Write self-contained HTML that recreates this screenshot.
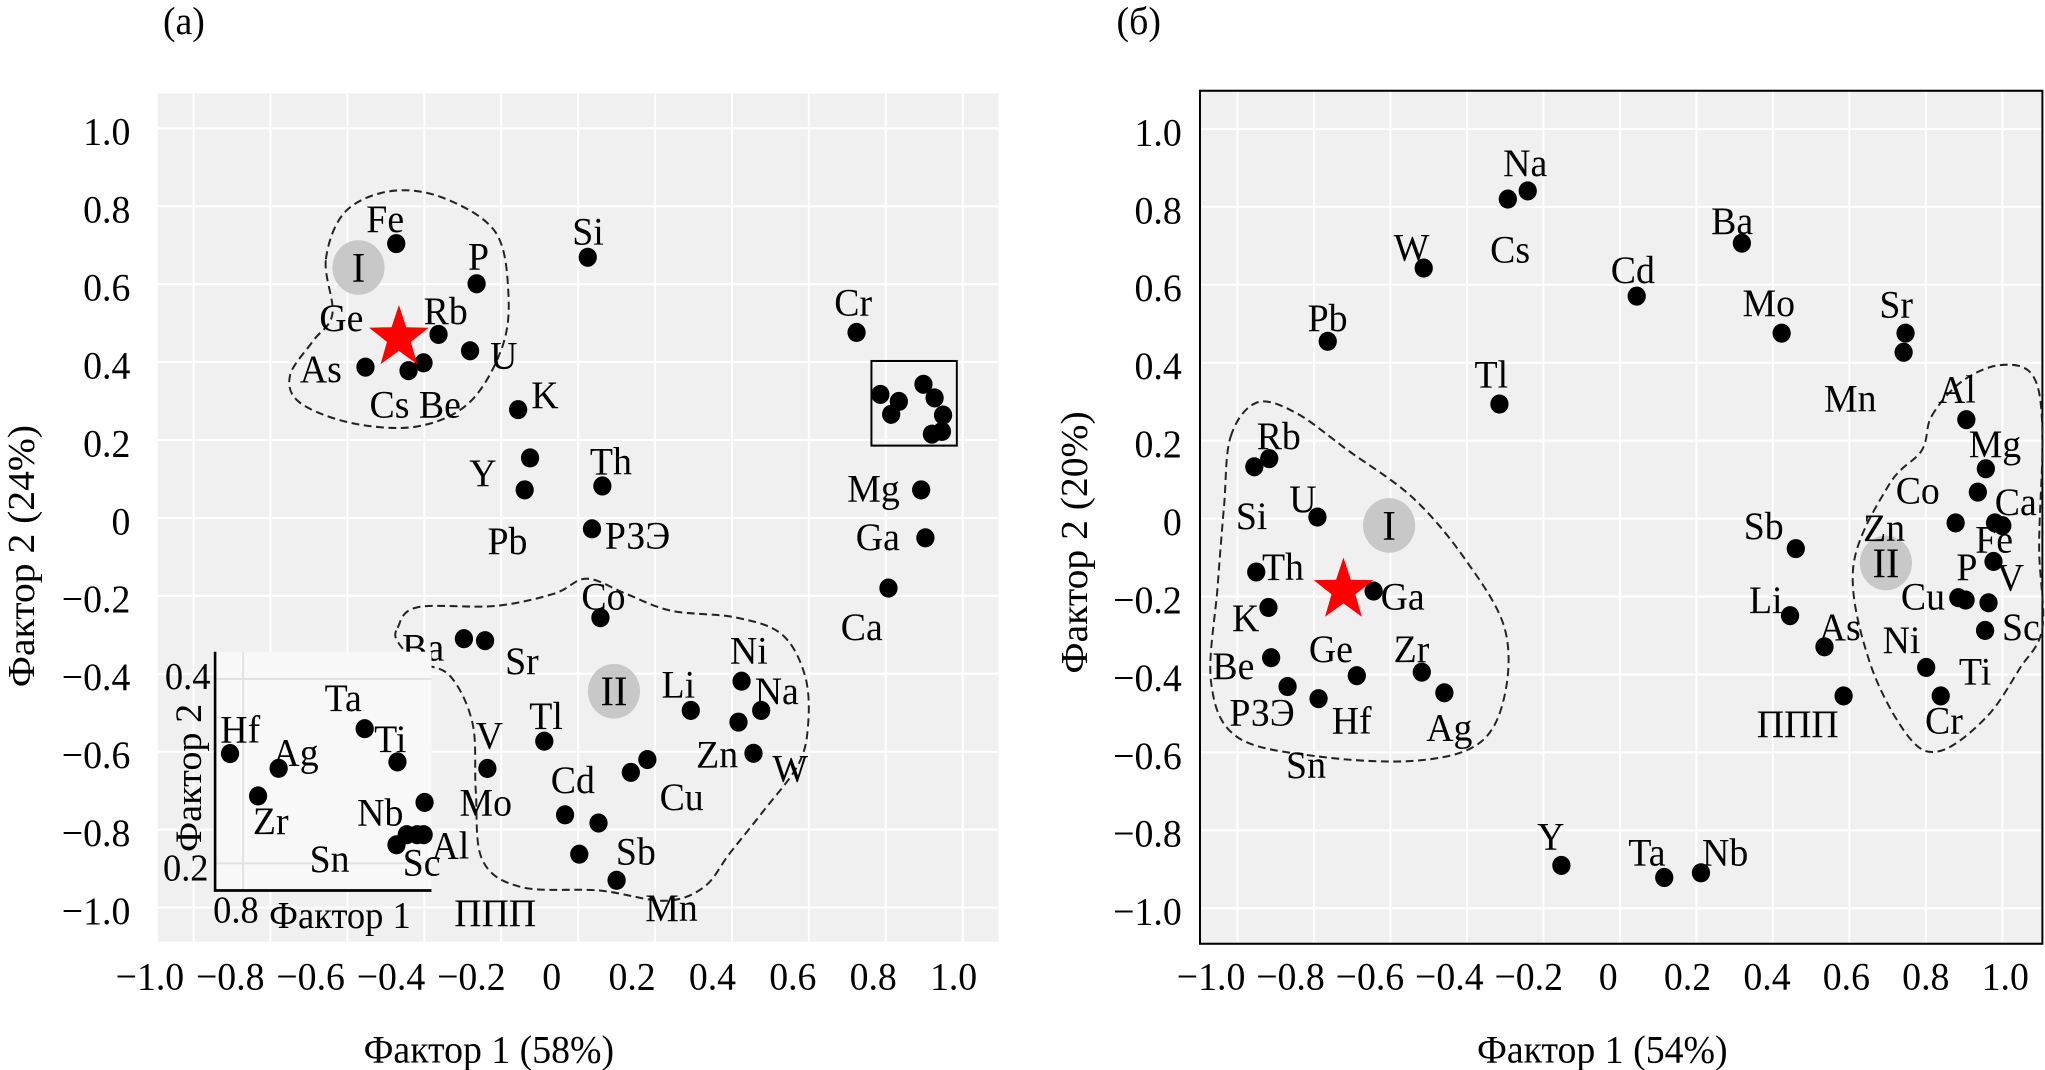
<!DOCTYPE html>
<html><head><meta charset="utf-8"><style>
html,body{margin:0;padding:0;background:#fff;width:2045px;height:1070px;overflow:hidden}
svg{position:absolute;top:0;font-family:"Liberation Serif","DejaVu Serif",serif}
text{font-family:"Liberation Serif","DejaVu Serif",serif}
</style></head><body>
<svg id="left" style="left:0" width="1022" height="1070" viewBox="0 0 1568 1568" preserveAspectRatio="none"></svg>
<svg id="right" style="left:1022px" width="1023" height="1070" viewBox="0 0 1569 1568" preserveAspectRatio="none"></svg>
<script>
// ---------- data: panel (a) ----------
const aX=[-0.473,-0.264,-0.363,-0.281,-0.553,-0.441,-0.402,0.025,0.724,-0.156,-0.125,-0.139,0.063,0.036,0.892,0.903,0.807,0.058,-0.297,-0.242,0.425,0.476,0.293,0.417,0.456,-0.088,-0.236,0.180,0.137,-0.034,0.053,0.003,0.100,0.786,0.834,0.814,0.898,0.927,0.949,0.946,0.920];
const aY=[0.704,0.601,0.471,0.429,0.387,0.378,0.398,0.669,0.476,0.278,0.154,0.072,0.082,-0.028,0.072,-0.051,-0.180,-0.256,-0.310,-0.315,-0.419,-0.494,-0.494,-0.524,-0.604,-0.573,-0.643,-0.620,-0.653,-0.762,-0.783,-0.863,-0.930,0.317,0.299,0.266,0.343,0.308,0.264,0.222,0.215];
const insetX=[0.786,0.838,0.816,0.930,0.965,0.994,0.975,0.986,0.993,0.964];
const insetY=[0.319,0.303,0.273,0.346,0.310,0.266,0.231,0.231,0.231,0.220];
const aLabels=[["Fe",562,340],["P",718,395],["Rb",650,475],["Ge",490,485],["U",752,540],["As",460,560],["Cs Be",567,612],["Si",878,358],["Cr",1280,462],["K",815,598],["Y",720,712],["Th",905,695],["Pb",748,812],["РЗЭ",928,804],["Mg",1300,735],["Ga",1313,806],["Ca",1290,938],["Co",892,893],["Ba",617,968],["Sr",775,988],["Ni",1120,972],["Na",1158,1032],["Li",1015,1022],["Tl",812,1068],["Zn",1068,1125],["W",1185,1145],["V",730,1097],["Cd",845,1162],["Cu",1012,1187],["Mo",705,1195],["Sb",945,1267],["ППП",697,1357],["Mn",990,1350]];
const insetLabels=[["Hf",338,1088],["Ag",418,1122],["Zr",388,1222],["Ta",498,1042],["Ti",574,1102],["Nb",548,1210],["Sn",475,1278],["Sc",618,1283],["Al",662,1258]];
// ---------- data: panel (б) ----------
const bX=[-0.241,-0.293,-0.513,-0.764,-0.315,0.044,0.319,0.423,0.747,0.742,0.906,0.957,0.936,0.878,0.981,1.0,0.977,0.885,0.904,0.964,0.955,0.801,0.839,0.460,0.445,0.535,0.585,-0.153,0.116,0.212,-0.917,-0.956,-0.791,-0.951,-0.644,-0.919,-0.912,-0.869,-0.788,-0.688,-0.518,-0.459];
const bY=[0.841,0.820,0.643,0.455,0.294,0.571,0.707,0.476,0.476,0.427,0.254,0.128,0.068,-0.011,-0.011,-0.018,-0.110,-0.203,-0.209,-0.216,-0.287,-0.382,-0.455,-0.077,-0.249,-0.329,-0.455,-0.890,-0.921,-0.909,0.154,0.133,0.004,-0.137,-0.186,-0.228,-0.357,-0.431,-0.462,-0.403,-0.394,-0.447];
const bLabels=[["Na",738,258],["W",570,382],["Cs",718,385],["Pb",438,485],["Tl",694,568],["Cd",903,415],["Ba",1057,343],["Mo",1105,463],["Sr",1315,465],["Mn",1230,603],["Al",1405,590],["Mg",1452,670],["Co",1340,738],["Ca",1492,755],["Zn",1290,793],["Fe",1462,810],["P",1433,850],["V",1495,865],["Cu",1348,893],["Sc",1503,938],["Ni",1320,957],["Ti",1437,1003],["Cr",1385,1075],["Sb",1107,790],["Li",1115,898],["As",1222,938],["ППП",1127,1080],["Rb",360,658],["U",410,750],["Si",328,775],["Th",368,850],["Ga",550,893],["K",322,925],["Ge",440,970],["Zr",570,970],["Be",292,995],["РЗЭ",318,1063],["Hf",475,1075],["Ag",620,1085],["Sn",405,1140],["Y",790,1245],["Ta",930,1268],["Nb",1043,1268]];
const ticks=[-1.0,-0.8,-0.6,-0.4,-0.2,0,0.2,0.4,0.6,0.8,1.0];
const tickText=["−1.0","−0.8","−0.6","−0.4","−0.2","0","0.2","0.4","0.6","0.8","1.0"];
const gridVals=[-1.0,-0.8,-0.6,-0.4,-0.2,0,0.2,0.4,0.6,0.8,1.0];
const NS="http://www.w3.org/2000/svg";
const FF='"Liberation Serif","DejaVu Serif",serif';
function mk(svg,tag,attrs,txt){const e=document.createElementNS(NS,tag);for(const k in attrs)e.setAttribute(k,attrs[k]);if(txt!==undefined){e.textContent=txt;e.setAttribute('font-family',FF);}svg.appendChild(e);return e;}
function smooth(pts){let d="";const n=pts.length;for(let i=0;i<n;i++){const p0=pts[(i-1+n)%n],p1=pts[i],p2=pts[(i+1)%n],p3=pts[(i+2)%n];if(i===0)d+="M"+p1[0]+","+p1[1];const c1=[p1[0]+(p2[0]-p0[0])/6,p1[1]+(p2[1]-p0[1])/6],c2=[p2[0]-(p3[0]-p1[0])/6,p2[1]-(p3[1]-p1[1])/6];d+="C"+c1+" "+c2+" "+p2;}return d+"Z";}
function star(cx,cy,R){const r=R*0.4;let p=[];for(let i=0;i<10;i++){const a=-Math.PI/2+i*Math.PI/5,rr=i%2?r:R;p.push((cx+rr*Math.cos(a)).toFixed(1)+","+(cy+rr*Math.sin(a)).toFixed(1));}return p.join(" ");}
const FS=58;
function panel(svg,o){
  const X=v=>o.x0+o.ux*v, Y=v=>o.y0-o.uy*v;
  let e=mk(svg,"rect",{x:o.bx[0],y:o.by[0],width:o.bx[1]-o.bx[0],height:o.by[1]-o.by[0],fill:"#f0f0f0"});
  
  gridVals.forEach(v=>{
    let g=mk(svg,"line",{x1:X(v),x2:X(v),y1:o.by[0],y2:o.by[1],stroke:"#fff","stroke-width":3});
    
    g=mk(svg,"line",{x1:o.bx[0],x2:o.bx[1],y1:Y(v),y2:Y(v),stroke:"#fff","stroke-width":3});
    
  });
  if(o.border){e=mk(svg,"rect",{x:o.bx[0],y:o.by[0],width:o.bx[1]-o.bx[0],height:o.by[1]-o.by[0],fill:"none",stroke:"#000","stroke-width":3});}
  ticks.forEach((v,i)=>{
    let t=mk(svg,"text",{x:o.lx0+o.lux*v,y:1450,"font-size":FS,"text-anchor":"middle"},tickText[i]);
    
    t=mk(svg,"text",{x:o.yLabX,y:Y(v)+24,"font-size":FS,"text-anchor":"end"},tickText[i]);
    
  });
  o.contours.forEach(c=>{let p=mk(svg,"path",{d:smooth(c),fill:"none",stroke:"#222","stroke-width":3,"stroke-dasharray":"12 7"});});
  o.circles.forEach(c=>{let g=mk(svg,"ellipse",{cx:c[1],cy:c[2],rx:40,ry:40,fill:"#c8c8c8"});
    let t=mk(svg,"text",{x:c[1],y:c[2]+21,"font-size":62,"text-anchor":"middle"},c[0]);});
  o.xs.forEach((v,i)=>{let c=mk(svg,"ellipse",{cx:X(v),cy:Y(o.ys[i]),rx:14,ry:14,fill:"#000"});});
  o.labels.forEach(l=>{let t=mk(svg,"text",{x:l[1],y:l[2],"font-size":FS},l[0]);});
  let s=mk(svg,"polygon",{points:star(o.star[0],o.star[1],48),fill:"#f00"});
  let t=mk(svg,"text",{x:o.title[0],y:50,"font-size":FS},o.title[1]);
  t=mk(svg,"text",{x:o.xt[0],y:1557,"font-size":FS,"text-anchor":"middle"},o.xt[1]);
  t=mk(svg,"text",{x:0,y:0,"font-size":FS,"text-anchor":"middle",transform:"translate("+o.yt[0]+","+o.yt[1]+") rotate(-90)"},o.yt[2]);
  return {X,Y};
}
const L=document.getElementById('left');
panel(L,{x0:887,ux:590,y0:759,uy:571,bx:[242,1532],by:[137,1380],border:false,lx0:846.5,lux:616.5,yLabX:200,
 contours:[[[500,380],[530,310],[600,280],[680,290],[760,340],[780,430],[770,510],[720,590],[640,625],[540,620],[460,590],[445,550],[480,500],[510,460]],
 [[610,920],[640,890],[760,888],[850,870],[900,848],[960,870],[1030,895],[1130,905],[1200,930],[1235,990],[1240,1060],[1225,1120],[1170,1190],[1120,1250],[1080,1300],[1020,1320],[920,1305],[800,1300],[740,1260],[730,1160],[725,1060],[690,990],[640,970],[610,940]]],
 circles:[["I",550,392],["II",942,1013]],xs:aX,ys:aY,labels:aLabels,star:[612,495],title:[250,"(a)"],xt:[750,"Фактор 1 (58%)"],yt:[52,815,"Фактор 2 (24%)"]});
let bxr=mk(L,"rect",{x:1337,y:529,width:131,height:124,fill:"none",stroke:"#000","stroke-width":3});

const IX=v=>373+1435*(v-0.8), IY=v=>995-1350*(v-0.4);
let ib=mk(L,"rect",{x:330,y:955,width:332,height:350,fill:"#f8f8f8"});
let ig=mk(L,"line",{x1:IX(0.8),x2:IX(0.8),y1:955,y2:1305,stroke:"#e2e2e2","stroke-width":3});
[0.4,0.2].forEach(v=>{let g=mk(L,"line",{x1:330,x2:662,y1:IY(v),y2:IY(v),stroke:"#e2e2e2","stroke-width":3});});
let ia=mk(L,"path",{d:"M330,955 L330,1305 L662,1305",fill:"none",stroke:"#000","stroke-width":4});
insetX.forEach((v,i)=>{let c=mk(L,"ellipse",{cx:IX(v),cy:IY(insetY[i]),rx:14,ry:14,fill:"#000"});});
insetLabels.forEach(l=>{let t=mk(L,"text",{x:l[1],y:l[2],"font-size":FS},l[0]);});
[["0.4",253,1010],["0.2",250,1290],["0.8",327,1352]].forEach(l=>{let t=mk(L,"text",{x:l[1],y:l[2],"font-size":56},l[0]);});
let it=mk(L,"text",{x:413,y:1360,"font-size":56},"Фактор 1");
it=mk(L,"text",{x:0,y:0,"font-size":56,"text-anchor":"middle",transform:"translate(308,1140) rotate(-90)"},"Фактор 2");

const R=document.getElementById('right');
panel(R,{x0:917,ux:586.5,y0:760,uy:571,bx:[273,1565],by:[133,1383],border:true,lx0:899,lux:609,yLabX:245,
 contours:[[[320,640],[360,590],[420,605],[500,660],[600,730],[680,820],[740,920],[740,1020],[700,1090],[600,1115],[450,1108],[330,1080],[290,1000],[300,860],[310,740]],
 [[1395,610],[1440,560],[1500,535],[1550,550],[1565,630],[1560,800],[1565,920],[1530,980],[1480,1050],[1410,1100],[1360,1080],[1300,970],[1275,830],[1330,710],[1380,660]]],
 circles:[["I",563,770],["II",1325,825]],xs:bX,ys:bY,labels:bLabels,star:[493,865],title:[145,"(б)"],xt:[890,"Фактор 1 (54%)"],yt:[100,795,"Фактор 2 (20%)"]});
</script>
</body></html>
